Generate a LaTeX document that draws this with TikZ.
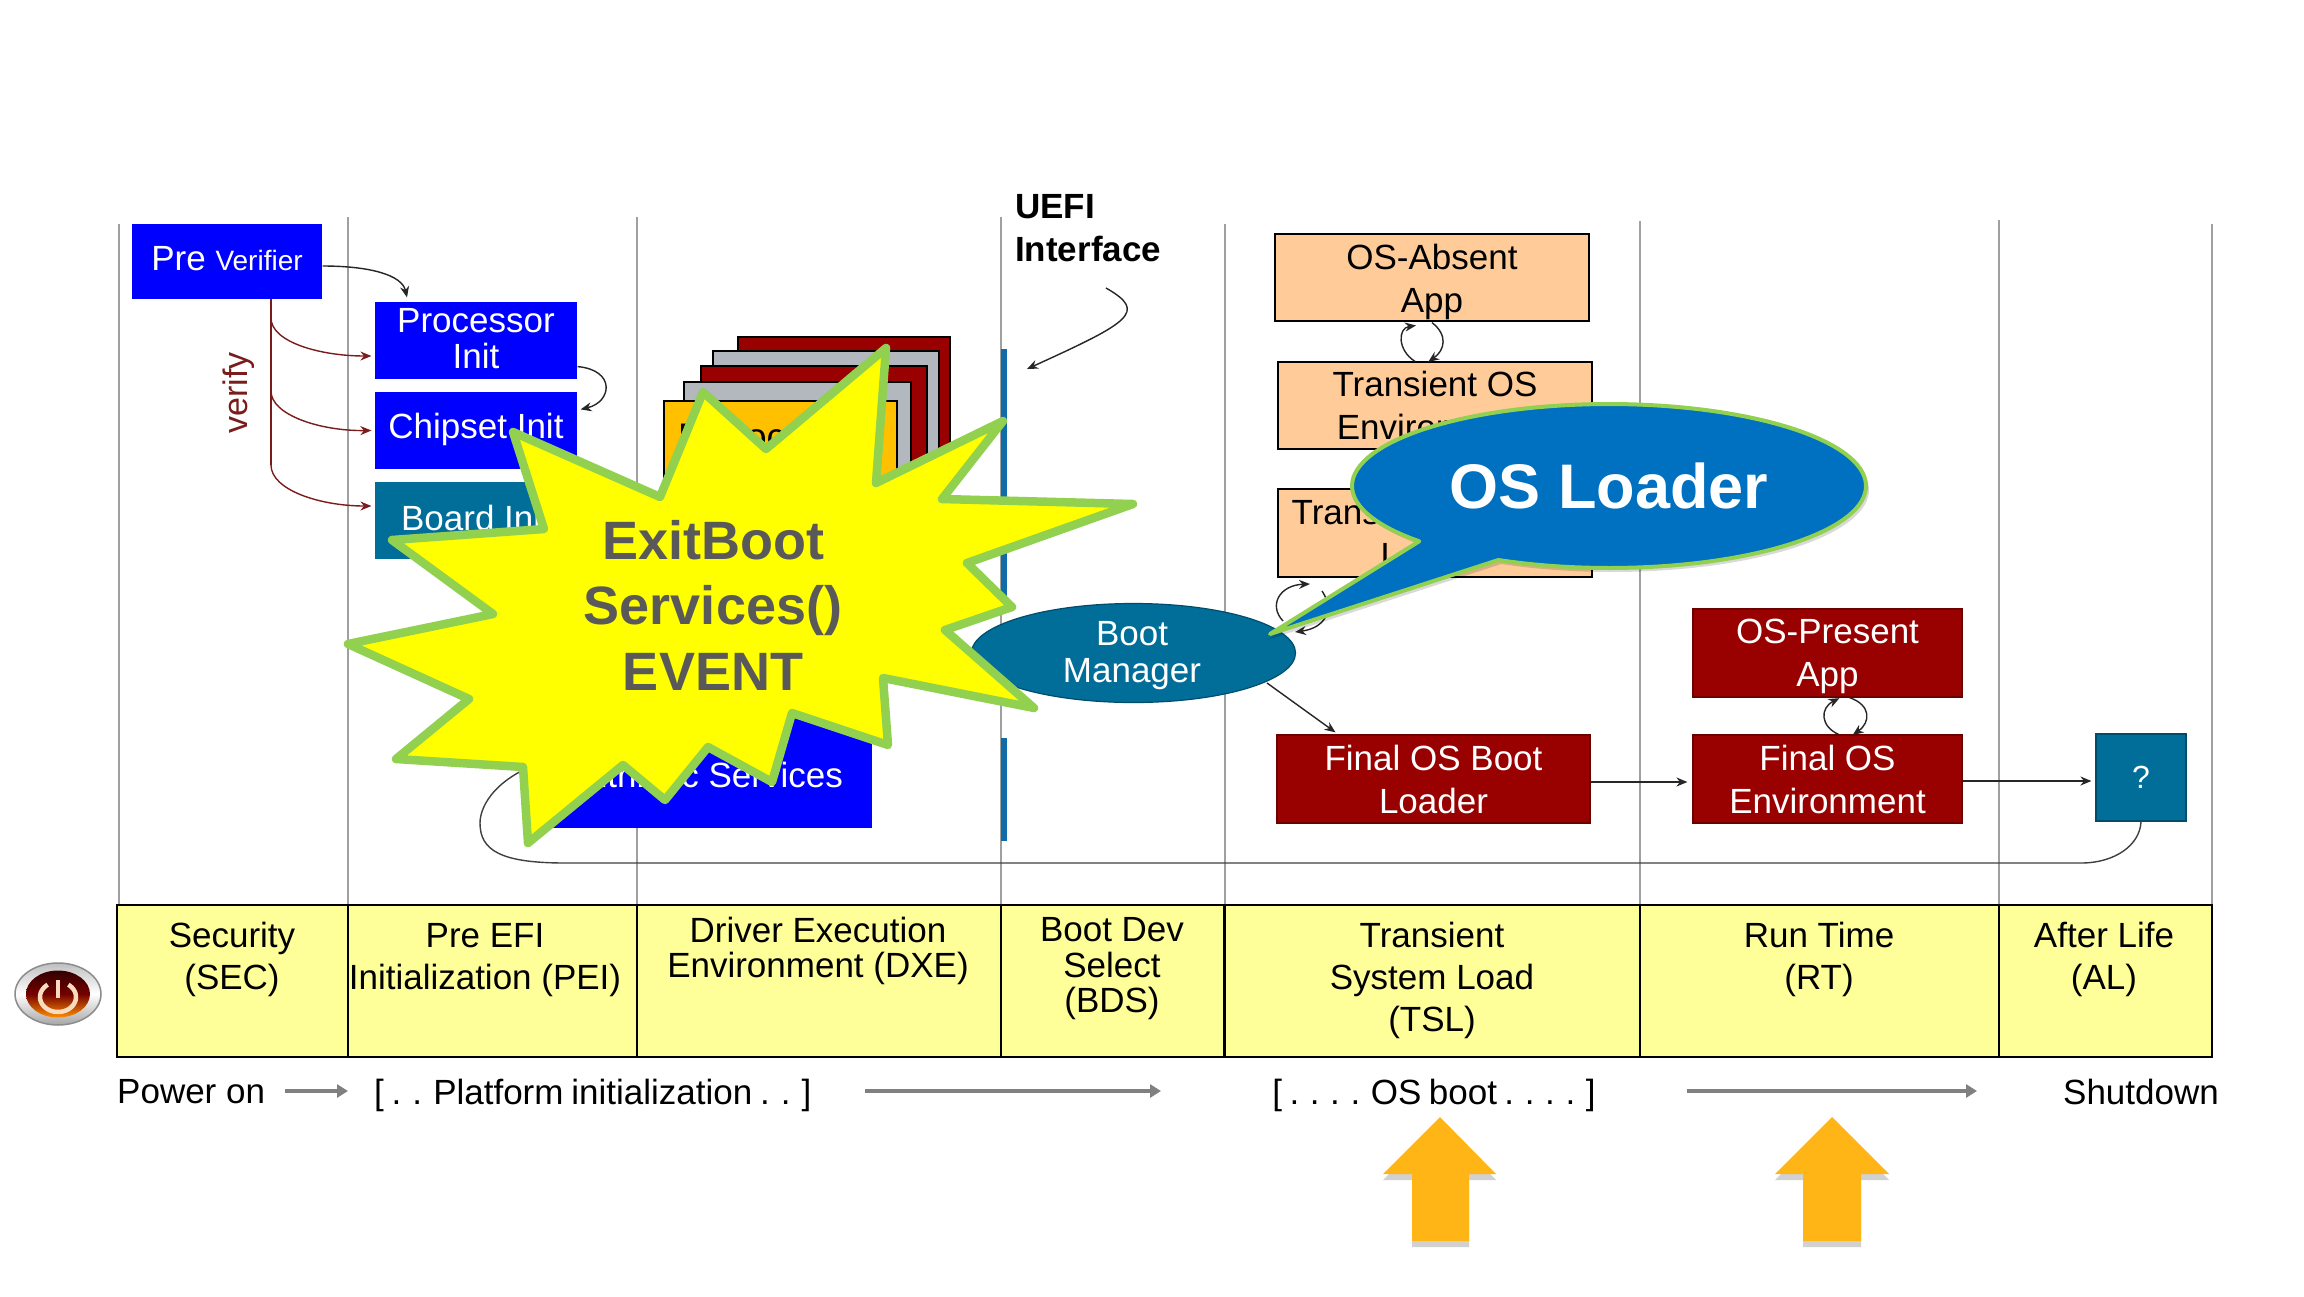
\documentclass[tikz,border=0pt]{standalone}
\usepackage{fontspec}
\setmainfont{Liberation Sans}
\usetikzlibrary{arrows.meta,shapes.geometric}
\definecolor{dkred}{HTML}{990000}
\definecolor{pblue}{HTML}{0000FF}
\definecolor{teal1}{HTML}{006E99}
\definecolor{peach}{HTML}{FFCC99}
\definecolor{cellyel}{HTML}{FFFF99}
\definecolor{vgrey}{HTML}{A0A0A0}
\definecolor{stkgrey}{HTML}{B2B8BE}
\definecolor{verred}{HTML}{7B1C1C}
\definecolor{stargreen}{HTML}{92D050}
\definecolor{starfill}{HTML}{FFFF00}
\definecolor{starfont}{HTML}{595959}
\definecolor{callblue}{HTML}{0070C0}
\definecolor{barblue}{HTML}{0F6CA8}
\definecolor{amber}{HTML}{FFB515}
\definecolor{cardorange}{HTML}{FFC000}
\tikzset{
  f35/.style={font=\fontsize{35}{43}\selectfont},
  f35t/.style={font=\fontsize{35}{36}\selectfont},
  box/.style={inner sep=0pt,align=center,draw=black,line width=1.2pt},
  bluebox/.style={box,draw=none,fill=pblue,text=white,f35t},
  redbox/.style={box,draw=dkred!70!black,fill=dkred,text=white,f35},
  peachbox/.style={box,fill=peach,f35},
  cardbox/.style={inner sep=0pt,draw=black,line width=1.2pt},
  vline/.style={draw=vgrey,line width=1.5pt},
  conn/.style={draw=black!85,line width=1.4pt,-{Stealth[length=11pt,width=9pt]}},
  plainconn/.style={draw=black!75,line width=1.4pt},
  verconn/.style={draw=verred,line width=1.4pt,-{Stealth[length=11pt,width=9pt]}},
  greyarrow/.style={draw=black!50,line width=3.5pt,-{Triangle[length=11pt,width=13pt]}},
  celltext/.style={inner sep=0pt,align=center,font=\fontsize{35}{42}\selectfont},
  cellthin/.style={inner sep=0pt,align=center,font=\fontsize{35}{35.5}\selectfont},
  linetext/.style={inner sep=0pt,font=\fontsize{35}{42}\selectfont},
  blockarrow/.style={fill=amber,draw=none},
  blockshadow/.style={fill=black,opacity=.18,draw=none},
}
\begin{document}
\begin{tikzpicture}[x=1pt,y=-1pt]
\useasboundingbox[fill=white] (0,0) rectangle (2304,1296);

% phase separators
\draw[vline] (119,224) -- (119,905);
\draw[vline] (348,217) -- (348,905);
\draw[vline] (637,217) -- (637,905);
\draw[vline] (1001,217) -- (1001,905);
\draw[vline] (1225,224) -- (1225,905);
\draw[vline] (1640,221) -- (1640,905);
\draw[vline] (1999,220) -- (1999,905);
\draw[vline] (2212,224) -- (2212,905);

% phase table
\node[box,fill=cellyel,minimum width=231pt,minimum height=152pt] (c1) at (232.5,981) {};
\node[box,fill=cellyel,minimum width=289pt,minimum height=152pt] (c2) at (492.5,981) {};
\node[box,fill=cellyel,minimum width=364pt,minimum height=152pt] (c3) at (819,981) {};
\node[box,fill=cellyel,minimum width=224pt,minimum height=152pt] (c4) at (1113,981) {};
\node[box,fill=cellyel,minimum width=415pt,minimum height=152pt] (c5) at (1432.5,981) {};
\node[box,fill=cellyel,minimum width=359pt,minimum height=152pt] (c6) at (1819.5,981) {};
\node[box,fill=cellyel,minimum width=213pt,minimum height=152pt] (c7) at (2105.5,981) {};
\draw[black,line width=2pt] (c5.north west) -- (c5.south west);
\node[celltext] (t1) at (232,959.5) {Security\\(SEC)};
\node[celltext] (t2) at (485,960) {Pre EFI\\Initialization (PEI)};
\node[cellthin] (t3) at (818,951) {Driver Execution\\Environment (DXE)};
\node[cellthin] (t4) at (1112,969) {Boot Dev\\Select\\(BDS)};
\node[celltext] (t5) at (1432,980.5) {Transient\\System Load\\(TSL)};
\node[celltext] (t6) at (1819,959.5) {Run Time\\(RT)};
\node[celltext] (t7) at (2104,959.5) {After Life\\(AL)};

% power button
\node[ellipse,draw=black!45,line width=1.5pt,top color=black!25,bottom color=black!35,middle color=white,minimum width=86pt,minimum height=62pt,inner sep=0pt] (pwr) at (58,994) {};
\node[ellipse,top color=black!80!red,bottom color=orange!90!yellow,middle color=red!45!black,minimum width=64pt,minimum height=47pt,inner sep=0pt] (pwrin) at (58,994) {};
\draw[line width=4.5pt,draw=black!10!orange!25!white] plot[domain=-55:235,samples=40] ({58+18*cos(\x)},{997+15*sin(\x)});
\draw[line width=4.5pt,draw=black!10!orange!25!white] (pwrin.center)++(0,-14) -- ++(0,18);

% bottom line
\node[linetext,anchor=west] (pon) at (117,1092) {Power on};
\node[linetext,anchor=west] (plat) at (374,1095) {\spaceskip=7.8pt [ . . Platform initialization . . ]};
\node[linetext] (osb) at (1434,1095) {\spaceskip=7.4pt [ . . . . OS boot . . . . ]};
\node[linetext,anchor=east] (shut) at (2219,1092) {Shutdown};
\draw[greyarrow] (285,1091) -- ([xshift=-26pt,yshift=4pt]plat.west);
\draw[greyarrow] (865,1091) -- (1161,1091);
\draw[greyarrow] (1687,1091) -- (1977,1091);

% block arrows
\path[blockshadow] (1440,1123) -- (1496,1180) -- (1469,1180) -- (1469,1247) -- (1412,1247) -- (1412,1180) -- (1383,1180) -- cycle;
\path[blockshadow] (1832,1123) -- (1889,1180) -- (1861,1180) -- (1861,1247) -- (1803,1247) -- (1803,1180) -- (1775,1180) -- cycle;
\path[blockarrow] (1440,1117) -- (1496,1174) -- (1469,1174) -- (1469,1241) -- (1412,1241) -- (1412,1174) -- (1383,1174) -- cycle;
\path[blockarrow] (1832,1117) -- (1889,1174) -- (1861,1174) -- (1861,1241) -- (1803,1241) -- (1803,1174) -- (1775,1174) -- cycle;

% SEC / PEI boxes
\node[bluebox,minimum width=190pt,minimum height=75pt] (pre) at (227,261) {\rule[-6pt]{0pt}{0pt}Pre {\fontsize{28}{36}\selectfont Verifier}};
\node[bluebox,minimum width=202pt,minimum height=77pt] (proc) at (476,340.5) {Processor\\\rule[-4pt]{0pt}{0pt}Init};
\node[bluebox,minimum width=202pt,minimum height=77pt] (chip) at (476,430.5) {\rule[-10pt]{0pt}{0pt}Chipset Init};
\node[bluebox,fill=teal1,minimum width=202pt,minimum height=77pt] (board) at (476,520.5) {\rule[-6pt]{0pt}{0pt}Board Init};
\node[inner sep=0pt,rotate=90,text=verred,font=\fontsize{34}{40}\selectfont] (ver) at (239,393) {verify};

\coordinate (v1) at (271,318);
\coordinate (v2) at (271,391);
\coordinate (v3) at (271,465);
\draw[draw=verred,line width=1.4pt] ([xshift=44pt]pre.south) -- (v3);
\draw[verconn] (v1) .. controls (271,342) and (320,356) .. ([xshift=-3pt,yshift=-15.5pt]proc.west);
\draw[verconn] (v2) .. controls (271,415) and (320,431) .. ([xshift=-3pt]chip.west);
\draw[verconn] (v3) .. controls (271,490) and (320,506) .. ([xshift=-3pt,yshift=14.5pt]board.west);
\draw[conn] ([yshift=-5pt]pre.east) .. controls (370,266) and (402,275) .. ([xshift=-69pt,yshift=4pt]proc.north);
\draw[conn] ([yshift=13pt]proc.south east) .. controls (616,370) and (612,402) .. ([xshift=3pt,yshift=-18pt]chip.north east);

% DXE stack
\node[cardbox,fill=dkred,minimum width=212pt,minimum height=130pt] (s1) at (844,402) {};
\node[cardbox,fill=stkgrey,minimum width=226pt,minimum height=130pt] (s2) at (826,416) {};
\node[cardbox,fill=dkred,minimum width=226pt,minimum height=130pt] (s3) at (814,431) {};
\node[cardbox,fill=stkgrey,minimum width=227pt,minimum height=130pt] (s4) at (797.5,447) {};
\node[cardbox,fill=cardorange,minimum width=233pt,minimum height=130pt] (s5) at (780.5,466) {};
\node[inner sep=0pt,anchor=west,font=\fontsize{37}{42}\selectfont] (prot) at (678,436) {Protocol};

\draw[plainconn] (board.south) .. controls (452,590) and (455,610) .. (s5.south west);

\node[bluebox,minimum width=320pt,minimum height=138pt] (ints) at (712,759) {};
\node[inner sep=0pt,anchor=east,text=white,font=\fontsize{35}{42}\selectfont] (intst) at (843,775) {Intrinsic Services};

% UEFI interface
\node[inner sep=0pt,anchor=north west,align=left,font=\bfseries\fontsize{35}{43.5}\selectfont] (uefi) at (1015,194) {UEFI\\Interface};
\coordinate (ua) at (1106,288);
\coordinate (ub) at (1027,369);
\draw[conn] (ua) .. controls (1148,312) and (1130,322) .. (ub);
\fill[barblue] (1001,349) rectangle (1007,600);
\fill[barblue] (1001,738) rectangle (1007,841);

% TSL / RT boxes
\node[peachbox,minimum width=314pt,minimum height=87pt] (absent) at (1432,277.5) {\rule{0pt}{34pt}OS-Absent\\App};
\node[peachbox,minimum width=314pt,minimum height=87pt] (tenv) at (1435,405.5) {Transient OS\\Environment};
\node[peachbox,minimum width=314pt,minimum height=88pt] (tldr) at (1435,533) {Transient OS Boot\\Loader};
\node[redbox,minimum width=313pt,minimum height=88pt] (fbl) at (1433.5,779) {Final OS Boot\\Loader};
\node[redbox,minimum width=269pt,minimum height=88pt] (fenv) at (1827.5,779) {Final OS\\Environment};
\node[redbox,minimum width=269pt,minimum height=88pt] (opres) at (1827.5,653) {\rule{0pt}{31pt}OS-Present\\App};
\node[box,fill=teal1,draw=teal1!70!black,text=white,font=\fontsize{32}{40}\selectfont,minimum width=90pt,minimum height=87pt] (qm) at (2141,777.5) {?};
\node[ellipse,fill=teal1,draw=teal1!70!black,line width=1.2pt,inner sep=0pt,minimum width=324pt,minimum height=99pt] (mgr) at (1133.5,653) {};
\node[inner sep=0pt,align=center,text=white,font=\fontsize{35}{37}\selectfont] (mgrt) at (1132,655.5) {Boot\\Manager};

\draw[conn,shorten >=-1pt] ([xshift=-20pt]tenv.north) .. controls (1397,350) and (1398,328) .. ([xshift=-17pt,yshift=-4pt]absent.south);
\draw[conn,shorten >=-1pt] ([yshift=-1pt]absent.south) .. controls (1448,335) and (1445,350) .. ([xshift=-6pt]tenv.north);
\coordinate (la) at (1283,621);
\coordinate (lb) at (1310,584);
\coordinate (lc) at (1322,591);
\coordinate (ld) at (1295,632);
\draw[conn] (la) .. controls (1268,605) and (1280,585) .. (lb);
\draw[conn] (lc) .. controls (1335,610) and (1325,628) .. (ld);
\coordinate (me) at (1267,683);
\draw[conn] (me) -- ([xshift=-98pt,yshift=2pt]fbl.north);
\draw[conn] ([yshift=-3pt]fbl.east) -- ([xshift=-5pt,yshift=-3pt]fenv.west);
\draw[conn] ([yshift=-2pt]fenv.east) -- ([xshift=-4pt,yshift=-3.5pt]qm.west);
\draw[conn,shorten >=-1pt] ([xshift=11pt]fenv.north) .. controls (1820,726) and (1820,708) .. ([xshift=11pt,yshift=-1pt]opres.south);
\draw[conn,shorten >=-1pt] ([xshift=22pt]opres.south) .. controls (1871,705) and (1871,722) .. ([xshift=26pt]fenv.north);
\draw[plainconn] (qm.south) .. controls (2140,845) and (2115,863) .. (2081,863) -- (565,863) .. controls (500,863) and (480,850) .. (480,823) .. controls (480,805) and (497,775) .. (ints.west);

% star
\path[fill=starfill,draw=stargreen,line width=8.5pt,line join=round]
 (886,348) -- (876,483) -- (1003,421) -- (942,499) -- (1133,504) -- (967,563) -- (1012,607) -- (945,630) -- (1034,708) -- (883,678) -- (888,745) -- (792,713) -- (772,782) -- (708,747) -- (665,800) -- (623,765) -- (528,843) -- (523,767) -- (396,759) -- (469,699) -- (348,644) -- (493,614) -- (392,540) -- (544,529) -- (513,432) -- (660,497) -- (703,392) -- (766,449) -- cycle;
\node[inner sep=0pt,align=center,text=starfont,font=\bfseries\fontsize{54}{65.5}\selectfont] (event) at (713,605) {ExitBoot\\Services()\\EVENT};

% OS Loader callout
\path[fill=black,opacity=.15,shift={(3pt,-4pt)}] (1264,636) -- plot[domain=115.5:-222.4,samples=120] ({1609+257*cos(\x)},{486+82*sin(\x)}) -- cycle;
\path[fill=callblue,draw=stargreen,line width=4pt,line join=round] (1270,634) -- plot[domain=115.5:-222.4,samples=120] ({1609+257*cos(\x)},{486+82*sin(\x)}) -- cycle;
\node[inner sep=0pt,text=white,font=\bfseries\fontsize{63}{70}\selectfont] (osl) at (1609,486) {OS Loader};
\end{tikzpicture}
\end{document}
